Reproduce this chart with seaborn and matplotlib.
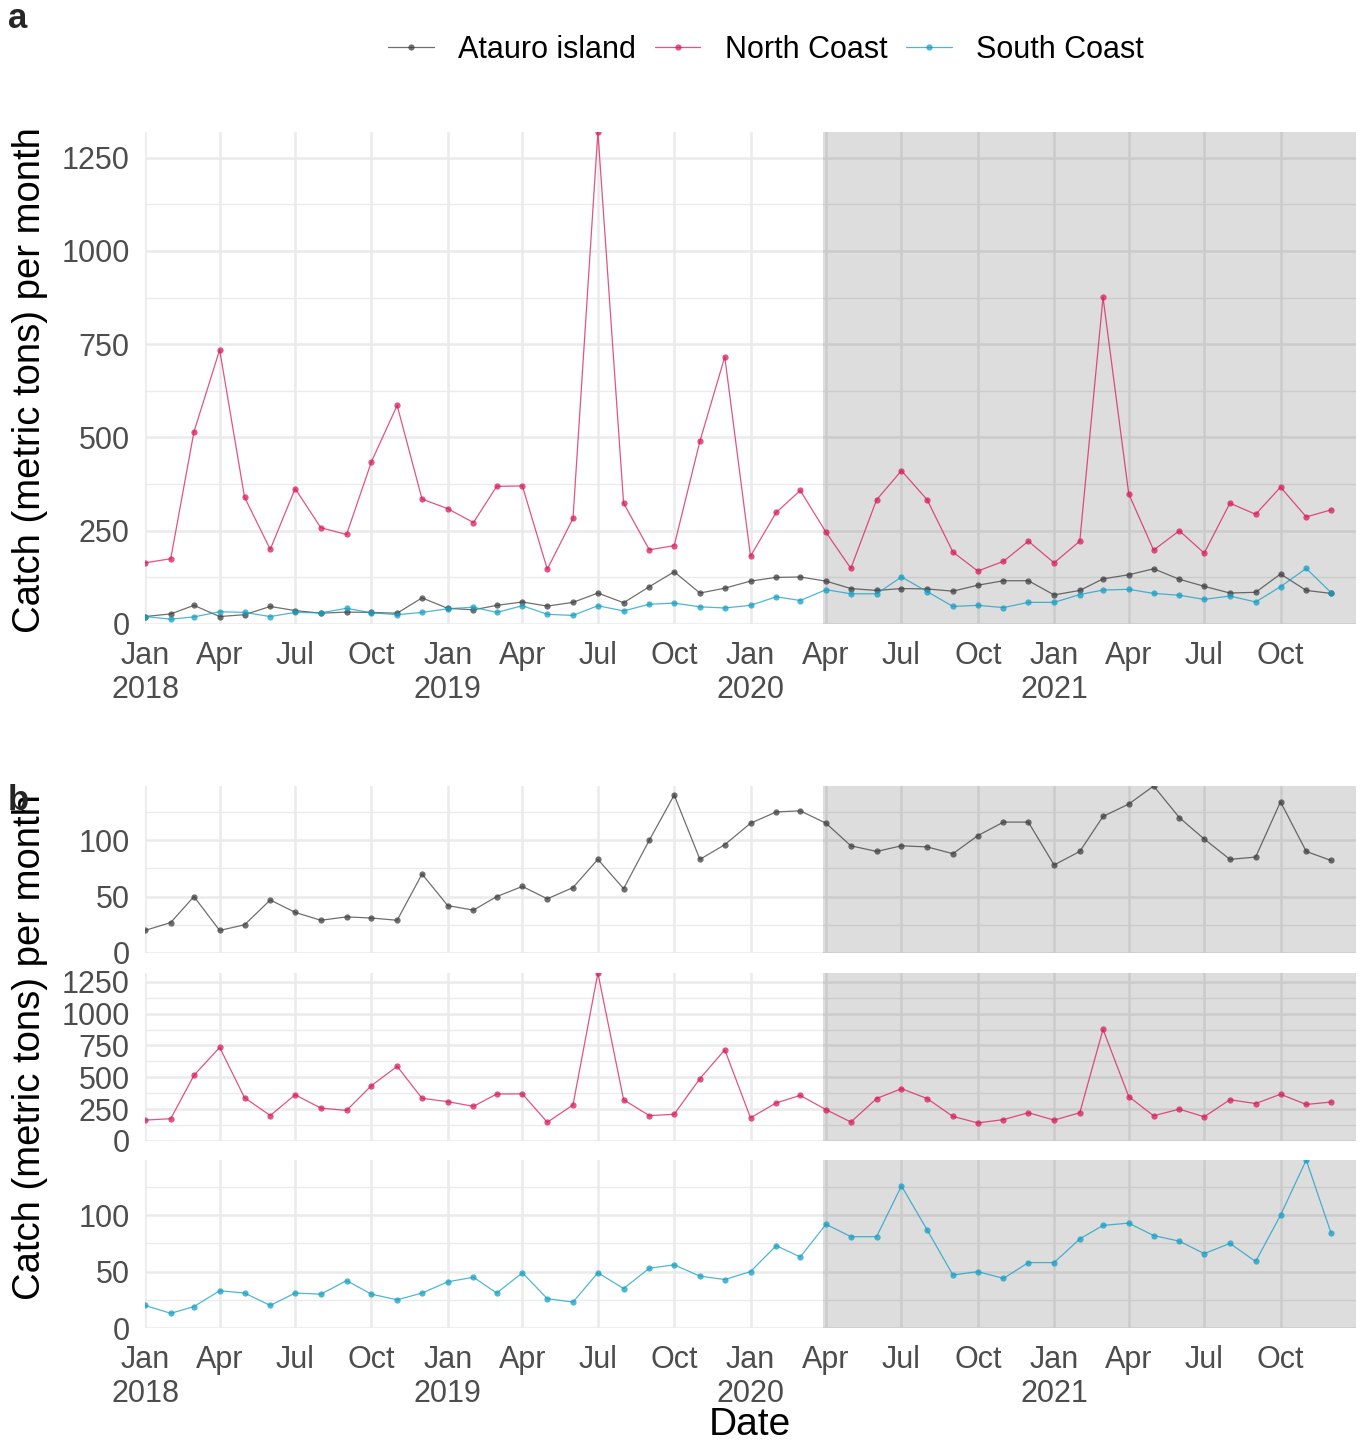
import numpy as np
import pandas as pd
import matplotlib
matplotlib.use("Agg")
import matplotlib.pyplot as plt
import matplotlib.dates as mdates
from matplotlib.ticker import MultipleLocator, FuncFormatter
import seaborn as sns

# ---------------- data ----------------
months = pd.date_range("2018-01-01", periods=48, freq="MS")

atauro = [20, 27, 50, 20, 25, 47, 36, 29, 32, 31, 29, 70,
          42, 38, 50, 59, 48, 58, 83, 57, 100, 140, 83, 96,
          115, 125, 126, 115, 95, 90, 95, 94, 88, 104, 116, 116,
          78, 90, 121, 132, 148, 120, 101, 83, 85, 134, 90, 82]

north = [164, 175, 515, 735, 340, 200, 363, 258, 240, 435, 586, 335,
         309, 272, 369, 370, 147, 283, 1319, 324, 199, 210, 490, 716,
         182, 299, 358, 246, 149, 333, 411, 333, 193, 142, 168, 222,
         164, 222, 876, 349, 198, 250, 190, 324, 294, 367, 287, 306]

south = [20, 13, 19, 33, 31, 20, 31, 30, 42, 30, 25, 31,
         41, 45, 31, 49, 26, 23, 49, 35, 53, 56, 46, 43,
         50, 73, 63, 92, 81, 81, 126, 87, 47, 50, 44, 58,
         58, 79, 91, 93, 82, 77, 66, 75, 59, 100, 149, 84]

regions = ["Atauro island", "North Coast", "South Coast"]
series = {"Atauro island": atauro, "North Coast": north, "South Coast": south}
palette = {"Atauro island": "#3f3f3f", "North Coast": "#d81b5a", "South Coast": "#139fc4"}

shade_start = pd.Timestamp("2020-03-28")
x_min = pd.Timestamp("2018-01-01")
x_max = pd.Timestamp("2021-12-31")

df = pd.concat(
    [pd.DataFrame({"date": months, "region": r, "catch": series[r]}) for r in regions],
    ignore_index=True,
)

# ---------------- style ----------------
sns.set_theme(style="white")
plt.rcParams["font.family"] = ["Liberation Sans", "DejaVu Sans"]

W, H = 1363, 1445
fig = plt.figure(figsize=(W / 100, H / 100), dpi=100)


def fx(px):
    return px / W


def fy(py):
    return 1 - py / H


def make_ax(top, bottom):
    left, right = 145, 1356
    return fig.add_axes([fx(left), fy(bottom), fx(right - left), (bottom - top) / H])


def date_fmt(x, pos):
    d = mdates.num2date(x)
    if d.month == 1:
        return d.strftime("%b") + "\n" + d.strftime("%Y")
    return d.strftime("%b")


def style_ax(ax, major, minor, ymax, show_x):
    ax.set_xlim(x_min, x_max)
    ax.set_ylim(0, ymax)
    ax.set_axisbelow(True)
    ax.axvspan(shade_start, x_max, color="black", alpha=0.135, lw=0, zorder=0.6)
    ax.yaxis.set_major_locator(MultipleLocator(major))
    ax.yaxis.set_minor_locator(MultipleLocator(minor))
    ax.xaxis.set_major_locator(mdates.MonthLocator(bymonth=[1, 4, 7, 10]))
    ax.xaxis.set_major_formatter(FuncFormatter(date_fmt))
    ax.grid(which="major", axis="both", color="#ebebeb", lw=1.8)
    ax.grid(which="minor", axis="y", color="#ebebeb", lw=1.0)
    for s in ax.spines.values():
        s.set_visible(False)
    ax.tick_params(axis="both", which="both", length=0, labelsize=22,
                   labelcolor="#4d4d4d")
    ax.tick_params(axis="y", pad=11)
    ax.tick_params(axis="x", pad=12)
    for lab in ax.get_xticklabels():
        lab.set_linespacing(1.2)
    if not show_x:
        ax.tick_params(axis="x", labelbottom=False)
    ax.set_xlabel("")
    ax.set_ylabel("")


line_kw = dict(marker="o", markersize=4.5, markeredgewidth=0, linewidth=0.9, alpha=0.75)

# ---------------- panel a ----------------
ax_a = make_ax(132, 624)
sns.lineplot(data=df, x="date", y="catch", hue="region", hue_order=regions,
             palette=palette, ax=ax_a, legend=True, **line_kw)
style_ax(ax_a, 250, 125, max(north), True)
handles, labels = ax_a.get_legend_handles_labels()
ax_a.get_legend().remove()
fig.legend(handles, labels, loc="center", bbox_to_anchor=(fx(766), fy(50)), ncol=3,
           frameon=False, fontsize=22, handlelength=1.5, handletextpad=0.8,
           columnspacing=0.6, labelcolor="black")

# ---------------- panel b ----------------
specs = [
    ("Atauro island", 786, 953, 50, 25),
    ("North Coast", 973, 1141, 250, 125),
    ("South Coast", 1160, 1328, 50, 25),
]
for i, (reg, top, bot, maj, mnr) in enumerate(specs):
    ax = make_ax(top, bot)
    sub = df[df["region"] == reg]
    sns.lineplot(data=sub, x="date", y="catch", color=palette[reg], ax=ax,
                 legend=False, **line_kw)
    style_ax(ax, maj, mnr, max(series[reg]), i == 2)

# ---------------- texts ----------------
fig.text(fx(30), fy(380), "Catch (metric tons) per month", rotation=90,
         ha="center", va="center", fontsize=27.5, color="black")
fig.text(fx(30), fy(1047), "Catch (metric tons) per month", rotation=90,
         ha="center", va="center", fontsize=27.5, color="black")
fig.text(fx(750), fy(1425), "Date", ha="center", va="center", fontsize=28, color="black")
fig.text(fx(8), fy(18), "a", ha="left", va="center", fontsize=25, fontweight="bold")
fig.text(fx(8), fy(800), "b", ha="left", va="center", fontsize=25, fontweight="bold")

fig.savefig("out.png", dpi=100)
